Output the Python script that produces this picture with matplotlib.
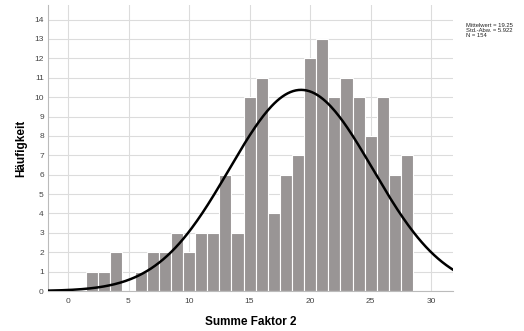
import matplotlib
matplotlib.use('Agg')
import matplotlib.pyplot as plt
import numpy as np

plt.rcParams['font.family'] = ['Liberation Sans', 'DejaVu Sans']

# histogram data (bin centers, counts)
werte = [2, 3, 4, 5, 6, 7, 8, 9, 10, 11, 12, 13, 14, 15, 16, 17, 18, 19, 20,
         21, 22, 23, 24, 25, 26, 27, 28]
haeufigkeit = [1, 1, 2, 0, 1, 2, 2, 3, 2, 3, 3, 6, 3, 10, 11, 4, 6, 7, 12,
               13, 10, 11, 10, 8, 10, 6, 7]
mittelwert = 19.25
std_abw = 5.922
n = 154

fig = plt.figure(figsize=(5.24, 3.31), dpi=100)
ax = fig.add_axes([0.0916, 0.1208, 0.7729, 0.8640])

ax.bar(werte, haeufigkeit, width=1.0, color='#999595', edgecolor='white',
       linewidth=0.8, zorder=2)

# normal curve scaled to counts (bin width 1)
xs = np.linspace(-1.65, 31.8, 300)
ys = n / (std_abw * np.sqrt(2 * np.pi)) * np.exp(-0.5 * ((xs - mittelwert) / std_abw) ** 2)
ax.plot(xs, ys, color='black', linewidth=1.8, zorder=3)

ax.set_xlim(-1.65, 31.8)
ax.set_ylim(0, 14.75)
ax.set_xticks(range(0, 31, 5))
ax.set_yticks(range(0, 15))
ax.grid(True, color='#dcdcdc', linewidth=0.8, zorder=0)
ax.set_axisbelow(True)
ax.tick_params(axis='y', length=0, labelsize=6, colors='#444444', pad=3)
ax.tick_params(axis='x', length=0, labelsize=6, colors='#444444', pad=5)

for s in ['top', 'right']:
    ax.spines[s].set_visible(False)
for s in ['left', 'bottom']:
    ax.spines[s].set_color('#bbbbbb')
    ax.spines[s].set_linewidth(0.8)

ax.set_xlabel('Summe Faktor 2', fontsize=8.5, fontweight='bold', labelpad=8)
ax.set_ylabel('Häufigkeit', fontsize=8.5, fontweight='bold', labelpad=5)

fig.text(0.889, 0.93,
         f'Mittelwert = {mittelwert:.2f}\nStd.-Abw. = {std_abw:.3f}\nN = {n}',
         fontsize=4.2, va='top', ha='left', linespacing=0.95, color='#222222')

fig.savefig('out.png', dpi=100)
